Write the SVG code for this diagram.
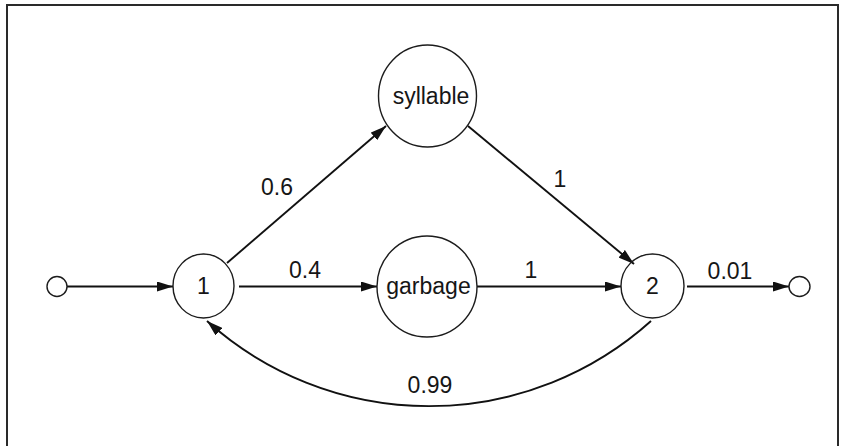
<svg xmlns="http://www.w3.org/2000/svg" width="843" height="446" viewBox="0 0 843 446">
  <style>
    .node { fill: none; stroke: #1c1c1c; stroke-width: 1.4; }
    .edge { fill: none; stroke: #111; stroke-width: 1.9; }
    .lbl { font-family: "Liberation Sans", Arial, Helvetica, sans-serif; font-size: 23px; fill: #161616; text-anchor: middle; }
    .frame { fill: none; stroke: #2a2a2a; stroke-width: 2; }
  </style>
  <defs>
    <marker id="arrow" viewBox="0 0 16 10" refX="16" refY="5" markerWidth="16" markerHeight="10" markerUnits="userSpaceOnUse" orient="auto">
      <path d="M0,0 L16,5 L0,10 Z" fill="#111"/>
    </marker>
  </defs>

  <rect width="843" height="446" fill="#ffffff"/>

  <!-- frame: top, left and right edges -->
  <polyline class="frame" points="7,446 7,5 838,5 838,446"/>

  <!-- connectors -->
  <g id="edges">
    <line class="edge" x1="67" y1="286.5" x2="173" y2="286.5" marker-end="url(#arrow)"/>
    <line class="edge" x1="239" y1="286.5" x2="377" y2="286.5" marker-end="url(#arrow)"/>
    <line class="edge" x1="477" y1="286.5" x2="621" y2="286.5" marker-end="url(#arrow)"/>
    <line class="edge" x1="687" y1="286.5" x2="789" y2="286.5" marker-end="url(#arrow)"/>
    <line class="edge" x1="227" y1="263" x2="386" y2="126" marker-end="url(#arrow)"/>
    <line class="edge" x1="468" y1="126" x2="634" y2="264" marker-end="url(#arrow)"/>
    <path class="edge" d="M651,321 A332,332 0 0 1 207,321" marker-end="url(#arrow)"/>

    <text class="lbl" x="277" y="195">0.6</text>
    <text class="lbl" x="560" y="187">1</text>
    <text class="lbl" x="305" y="278">0.4</text>
    <text class="lbl" x="531" y="278">1</text>
    <text class="lbl" x="730" y="279">0.01</text>
    <text class="lbl" x="430" y="393">0.99</text>
  </g>

  <!-- nodes -->
  <g id="start">
    <ellipse class="node" cx="57" cy="286.5" rx="10" ry="10"/>
  </g>
  <g id="state1">
    <ellipse class="node" cx="203.5" cy="286" rx="30.5" ry="32"/>
    <text class="lbl" x="203.5" y="294">1</text>
  </g>
  <g id="syllable">
    <ellipse class="node" cx="427.5" cy="96" rx="49" ry="51"/>
    <text class="lbl" x="431" y="104">syllable</text>
  </g>
  <g id="garbage">
    <ellipse class="node" cx="427" cy="286.5" rx="50" ry="50.5"/>
    <text class="lbl" x="428.5" y="294">garbage</text>
  </g>
  <g id="state2">
    <ellipse class="node" cx="652.5" cy="286" rx="31.5" ry="32"/>
    <text class="lbl" x="652.5" y="294">2</text>
  </g>
  <g id="end">
    <ellipse class="node" cx="799.5" cy="286.5" rx="10.5" ry="10"/>
  </g>
</svg>
